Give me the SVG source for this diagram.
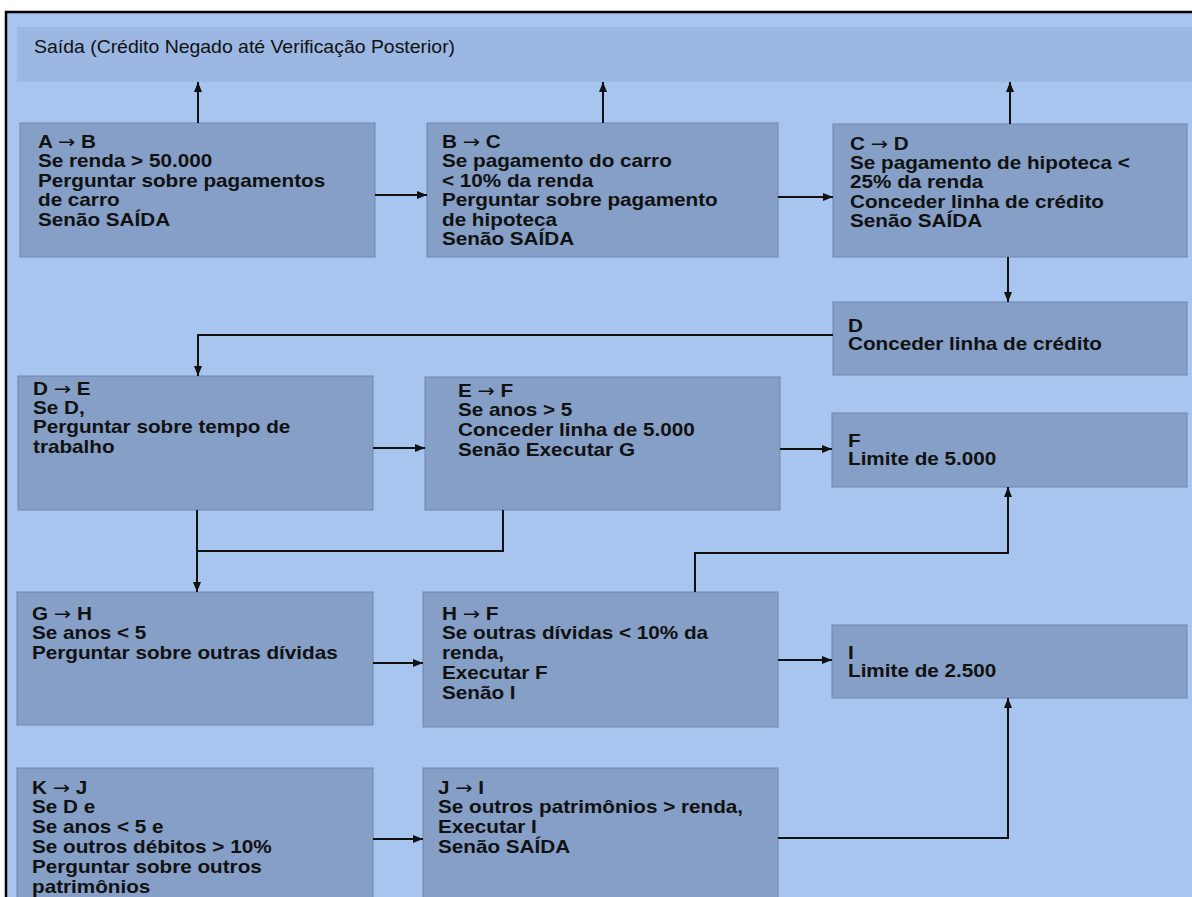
<svg xmlns="http://www.w3.org/2000/svg" width="1192" height="897" viewBox="0 0 1192 897">
  <style>
    .page { fill: #a8c5f0; }
    .bar { fill: #9bb7e2; }
    .box { fill: #859fc6; stroke: #6c86ad; stroke-width: 1; }
    .title { font-family: "Liberation Sans", Arial, sans-serif; font-size: 18px; fill: #111; }
    .lbl { font-family: "Liberation Sans", Arial, sans-serif; font-size: 18px; font-weight: bold; fill: #111; }
    .arr { font-family: "DejaVu Sans", sans-serif; font-weight: normal; }
    .wire { fill: none; stroke: #111; stroke-width: 2; }
  </style>
  <defs>
    <marker id="head" markerUnits="userSpaceOnUse" markerWidth="10" markerHeight="8" refX="10" refY="4" orient="auto">
      <path d="M0,0 L10,4 L0,8 z" fill="#111"/>
    </marker>
  </defs>

  <!-- sheet -->
  <rect x="0" y="0" width="1192" height="897" fill="#ffffff"/>
  <rect class="page" x="6" y="12" width="1186" height="885"/>
  <path d="M6,897 V12 H1192" fill="none" stroke="#000" stroke-width="2.5"/>

  <!-- exit band -->
  <g id="saida">
    <rect class="bar" x="17" y="27" width="1175" height="55"/>
    <text class="title" transform="translate(34,53) scale(1.08,1)">Saída (Crédito Negado até Verificação Posterior)</text>
  </g>

  <g id="node-ab">
    <rect class="box" x="20" y="123" width="355" height="134"/>
    <text class="lbl" transform="translate(38,148) scale(1.15,1)">
      <tspan x="0" y="0">A <tspan class="arr">→</tspan> B</tspan>
      <tspan x="0" y="19.5">Se renda &gt; 50.000</tspan>
      <tspan x="0" y="39">Perguntar sobre pagamentos</tspan>
      <tspan x="0" y="58.5">de carro</tspan>
      <tspan x="0" y="78">Senão SAÍDA</tspan>
    </text>
  </g>

  <g id="node-bc">
    <rect class="box" x="427" y="123" width="351" height="134"/>
    <text class="lbl" transform="translate(442,148) scale(1.15,1)">
      <tspan x="0" y="0">B <tspan class="arr">→</tspan> C</tspan>
      <tspan x="0" y="19.5">Se pagamento do carro</tspan>
      <tspan x="0" y="39">&lt; 10% da renda</tspan>
      <tspan x="0" y="58.5">Perguntar sobre pagamento</tspan>
      <tspan x="0" y="78">de hipoteca</tspan>
      <tspan x="0" y="97.5">Senão SAÍDA</tspan>
    </text>
  </g>

  <g id="node-cd">
    <rect class="box" x="833" y="124" width="354" height="133"/>
    <text class="lbl" transform="translate(850,149.5) scale(1.15,1)">
      <tspan x="0" y="0">C <tspan class="arr">→</tspan> D</tspan>
      <tspan x="0" y="19.5">Se pagamento de hipoteca &lt;</tspan>
      <tspan x="0" y="39">25% da renda</tspan>
      <tspan x="0" y="58.5">Conceder linha de crédito</tspan>
      <tspan x="0" y="78">Senão SAÍDA</tspan>
    </text>
  </g>

  <g id="node-d">
    <rect class="box" x="833" y="302" width="354" height="73"/>
    <text class="lbl" transform="translate(848,331.5) scale(1.15,1)">
      <tspan x="0" y="0">D</tspan>
      <tspan x="0" y="18.5">Conceder linha de crédito</tspan>
    </text>
  </g>

  <g id="node-de">
    <rect class="box" x="18" y="376" width="355" height="134"/>
    <text class="lbl" transform="translate(33,394.5) scale(1.15,1)">
      <tspan x="0" y="0">D <tspan class="arr">→</tspan> E</tspan>
      <tspan x="0" y="19.5">Se D,</tspan>
      <tspan x="0" y="39">Perguntar sobre tempo de</tspan>
      <tspan x="0" y="58.5">trabalho</tspan>
    </text>
  </g>

  <g id="node-ef">
    <rect class="box" x="425" y="377" width="355" height="133"/>
    <text class="lbl" transform="translate(458,396.5) scale(1.15,1)">
      <tspan x="0" y="0">E <tspan class="arr">→</tspan> F</tspan>
      <tspan x="0" y="20">Se anos &gt; 5</tspan>
      <tspan x="0" y="40">Conceder linha de 5.000</tspan>
      <tspan x="0" y="60">Senão Executar G</tspan>
    </text>
  </g>

  <g id="node-f">
    <rect class="box" x="832" y="413" width="355" height="74"/>
    <text class="lbl" transform="translate(848,446.5) scale(1.15,1)">
      <tspan x="0" y="0">F</tspan>
      <tspan x="0" y="18.5">Limite de 5.000</tspan>
    </text>
  </g>

  <g id="node-gh">
    <rect class="box" x="17" y="592" width="356" height="133"/>
    <text class="lbl" transform="translate(32,619.5) scale(1.15,1)">
      <tspan x="0" y="0">G <tspan class="arr">→</tspan> H</tspan>
      <tspan x="0" y="20">Se anos &lt; 5</tspan>
      <tspan x="0" y="40">Perguntar sobre outras dívidas</tspan>
    </text>
  </g>

  <g id="node-hf">
    <rect class="box" x="423" y="592" width="355" height="135"/>
    <text class="lbl" transform="translate(442,619.5) scale(1.15,1)">
      <tspan x="0" y="0">H <tspan class="arr">→</tspan> F</tspan>
      <tspan x="0" y="20">Se outras dívidas &lt; 10% da</tspan>
      <tspan x="0" y="40">renda,</tspan>
      <tspan x="0" y="60">Executar F</tspan>
      <tspan x="0" y="80">Senão I</tspan>
    </text>
  </g>

  <g id="node-i">
    <rect class="box" x="832" y="625" width="355" height="73"/>
    <text class="lbl" transform="translate(848,658.5) scale(1.15,1)">
      <tspan x="0" y="0">I</tspan>
      <tspan x="0" y="19">Limite de 2.500</tspan>
    </text>
  </g>

  <g id="node-kj">
    <rect class="box" x="17" y="768" width="356" height="140"/>
    <text class="lbl" transform="translate(32,793.5) scale(1.15,1)">
      <tspan x="0" y="0">K <tspan class="arr">→</tspan> J</tspan>
      <tspan x="0" y="20">Se D e</tspan>
      <tspan x="0" y="40">Se anos &lt; 5 e</tspan>
      <tspan x="0" y="60">Se outros débitos &gt; 10%</tspan>
      <tspan x="0" y="80">Perguntar sobre outros</tspan>
      <tspan x="0" y="100">patrimônios</tspan>
    </text>
  </g>

  <g id="node-ji">
    <rect class="box" x="423" y="768" width="355" height="140"/>
    <text class="lbl" transform="translate(438,793.5) scale(1.15,1)">
      <tspan x="0" y="0">J <tspan class="arr">→</tspan> I</tspan>
      <tspan x="0" y="20">Se outros patrimônios &gt; renda,</tspan>
      <tspan x="0" y="40">Executar I</tspan>
      <tspan x="0" y="60">Senão SAÍDA</tspan>
    </text>
  </g>

  <!-- connectors -->
  <g id="connectors">
    <path class="wire" d="M198,123 V82" marker-end="url(#head)"/>
    <path class="wire" d="M603,123 V82" marker-end="url(#head)"/>
    <path class="wire" d="M1010,124 V82" marker-end="url(#head)"/>
    <path class="wire" d="M375,195 H427" marker-end="url(#head)"/>
    <path class="wire" d="M778,197 H833" marker-end="url(#head)"/>
    <path class="wire" d="M1008,257 V302" marker-end="url(#head)"/>
    <path class="wire" d="M833,335 H198 V376" marker-end="url(#head)"/>
    <path class="wire" d="M373,448 H425" marker-end="url(#head)"/>
    <path class="wire" d="M780,449 H832" marker-end="url(#head)"/>
    <path class="wire" d="M197,510 V592" marker-end="url(#head)"/>
    <path class="wire" d="M503,510 V551 H197"/>
    <path class="wire" d="M695,592 V553 H1008 V487" marker-end="url(#head)"/>
    <path class="wire" d="M373,663 H423" marker-end="url(#head)"/>
    <path class="wire" d="M778,660 H832" marker-end="url(#head)"/>
    <path class="wire" d="M373,839 H423" marker-end="url(#head)"/>
    <path class="wire" d="M778,838 H1008 V698" marker-end="url(#head)"/>
  </g>
</svg>
